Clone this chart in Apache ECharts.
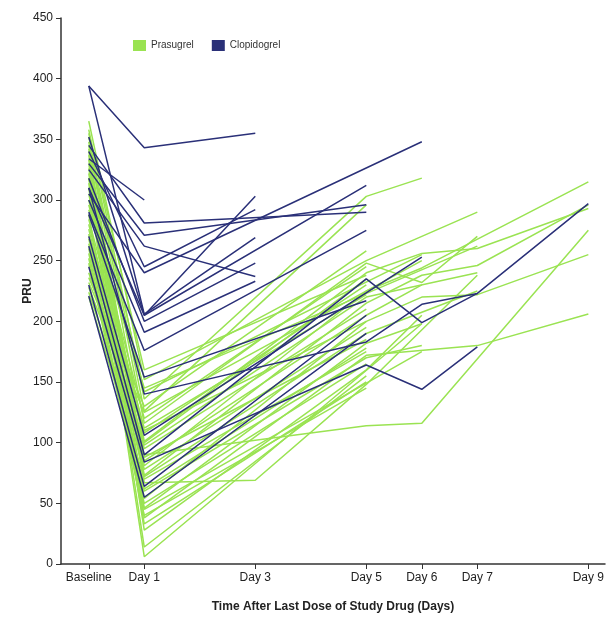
<!DOCTYPE html>
<html>
<head>
<meta charset="utf-8">
<script src="https://cdn.jsdelivr.net/npm/echarts@6/dist/echarts.min.js"></script>
<style>
  html, body { margin: 0; padding: 0; background: #fff; }
  #chart { width: 608px; height: 618px; }
</style>
</head>
<body>
<div id="chart"></div>
<script>
// visits: Baseline, Day 1, Day 3, Day 5, Day 6, Day 7, Day 9
var visitDays = [0, 1, 3, 5, 6, 7, 9];
var visitLabels = ["Baseline", "Day 1", "Day 3", "Day 5", "Day 6", "Day 7", "Day 9"];
var pruTicks = [0, 50, 100, 150, 200, 250, 300, 350, 400, 450];

// one row per patient, PRU at each visit (null = not measured)
var prasugrel = [
  [365, 152, null, 250, null, 290, null],
  [358, 136, null, 303, 318, null, null],
  [352, 126, null, 296, null, null, null],
  [348, 116, null, 248, 232, 270, null],
  [345, 101, null, 240, 256, 260, 293],
  [340, 81, null, 225, 244, null, 315],
  [337, 73, null, 215, 238, 246, 296],
  [333, 67, 69, 148, null, 238, null],
  [330, 54, null, 200, 220, 222, 255],
  [326, 46, null, 182, 198, null, null],
  [322, 38, null, 172, null, 180, 206],
  [318, 28, null, 160, 205, null, null],
  [314, 14, null, 155, null, null, null],
  [310, 6, null, null, 198, null, null],
  [305, 90, null, 114, 116, null, 275],
  [300, 108, null, 230, null, null, null],
  [296, 120, null, 245, null, null, null],
  [292, 145, null, null, null, 262, null],
  [284, 112, null, 222, null, null, null],
  [280, 95, null, 210, null, null, null],
  [276, 85, null, 205, 230, null, null],
  [272, 78, null, 195, null, null, null],
  [268, 72, null, 190, null, 225, null],
  [264, 62, null, 178, null, null, null],
  [260, 60, null, 170, 180, null, null],
  [256, 50, null, 165, null, null, null],
  [252, 45, null, null, 175, null, null],
  [248, 40, null, 145, null, null, null],
  [240, 100, null, 235, null, null, null],
  [236, 130, null, 258, null, null, null],
  [232, 125, null, null, 250, null, null],
  [228, 110, null, 200, null, null, null],
  [224, 88, null, 185, null, null, null],
  [220, 70, null, 175, null, null, null],
  [355, 160, null, 238, null, null, null],
  [342, 142, null, null, 255, null, null],
  [318, 98, null, 220, null, 240, null],
  [288, 33, null, 150, null, null, null]
];

var clopidogrel = [
  [394, 343, 355, null, null, null, null],
  [334, 300, null, null, null, null, null],
  [394, 206, 269, null, null, null, null],
  [352, 205, 303, null, null, null, null],
  [340, 245, 292, null, null, null, null],
  [325, 262, 237, null, null, null, null],
  [318, 200, 248, null, null, null, null],
  [300, 191, 233, null, null, null, null],
  [345, 281, null, 290, null, null, null],
  [330, 271, null, 296, null, null, null],
  [310, 205, null, 312, null, null, null],
  [290, 176, null, 275, null, null, null],
  [305, 240, null, null, 348, null, null],
  [288, 154, null, 217, null, null, null],
  [270, 106, null, null, 253, null, null],
  [310, 140, null, 183, 214, 223, 297],
  [262, 90, null, 235, 199, 223, null],
  [245, 84, null, 164, 144, 179, null],
  [230, 64, null, 205, null, null, null],
  [221, 55, null, 190, null, null, null]
];

var green = "#9ae352";
var navy = "#2a3078";

function toPoints(row) {
  var pts = [];
  row.forEach(function (v, i) {
    if (v !== null) pts.push([visitDays[i], v]);
  });
  return pts;
}

function makeSeries(rows, name, color) {
  return rows.map(function (row) {
    return {
      name: name,
      type: "line",
      data: toPoints(row),
      symbol: "none",
      color: color,
      lineStyle: { color: color, width: 1.5 },
      silent: true
    };
  });
}

(function () {
  var myChart = echarts.init(document.getElementById("chart"));
  var option = {
    animation: false,
    textStyle: { fontFamily: "Liberation Sans, Arial, sans-serif" },
    legend: {
      data: ["Prasugrel", "Clopidogrel"],
      left: 128,
      top: 35,
      icon: "rect",
      itemWidth: 13,
      itemHeight: 11,
      itemGap: 18,
      textStyle: { fontSize: 10, color: "#333" }
    },
    grid: {
      left: 61,
      right: 3,
      top: 18,
      bottom: 49
    },
    xAxis: {
      type: "value",
      min: -0.5,
      max: 9.3,
      name: "Time After Last Dose of Study Drug (Days)",
      nameLocation: "middle",
      nameGap: 37,
      nameMoveOverlap: false,
      nameTextStyle: { fontSize: 12, fontWeight: "bold", color: "#222" },
      axisLine: { onZero: false, lineStyle: { color: "#333", width: 1.5 } },
      axisTick: { customValues: visitDays, length: 5, lineStyle: { color: "#333" } },
      axisLabel: {
        customValues: visitDays,
        fontSize: 12,
        color: "#222",
        margin: 8,
        formatter: function (v) {
          return visitLabels[visitDays.indexOf(v)];
        }
      },
      splitLine: { show: false }
    },
    yAxis: {
      type: "value",
      min: pruTicks[0],
      max: pruTicks[pruTicks.length - 1],
      interval: 50,
      name: "PRU",
      nameLocation: "middle",
      nameGap: 27,
      nameMoveOverlap: false,
      nameRotate: 90,
      nameTextStyle: { fontSize: 12, fontWeight: "bold", color: "#222" },
      axisLine: { show: true, onZero: false, lineStyle: { color: "#333", width: 1.5 } },
      axisTick: { show: true, length: 5, lineStyle: { color: "#333" } },
      axisLabel: { fontSize: 12, color: "#222", margin: 8 },
      splitLine: { show: false }
    },
    series: makeSeries(prasugrel, "Prasugrel", green)
      .concat(makeSeries(clopidogrel, "Clopidogrel", navy))
  };
  myChart.setOption(option);
  window.addEventListener("resize", function () {
    myChart.resize();
  });
})();
</script>
</body>
</html>
